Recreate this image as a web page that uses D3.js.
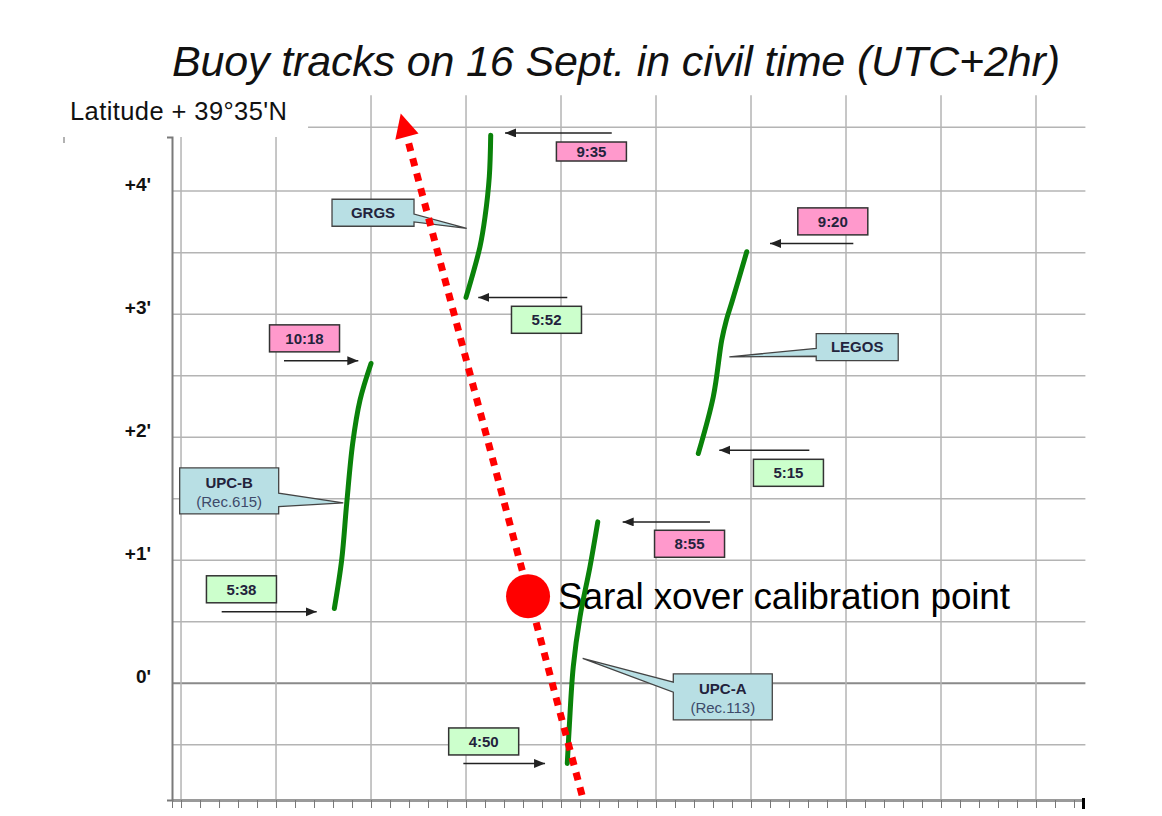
<!DOCTYPE html>
<html>
<head>
<meta charset="utf-8">
<script src="https://cdn.jsdelivr.net/npm/d3@7"></script>
<style>
  html, body { margin: 0; padding: 0; background: #fff; }
  #screen svg { display: block; }
</style>
</head>
<body>
<div id="screen"></div>
<script>
// x: grid columns (unlabelled), y: latitude minutes above 39°35'N
const buoyNames = ['UPC-B', 'GRGS', 'UPC-A', 'LEGOS']
const buoyRecs = ['(Rec.615)', '', '(Rec.113)', '']
const startTimes = ['5:38', '5:52', '4:50', '5:15']
const endTimes = ['10:18', '9:35', '8:55', '9:20']

const trackUPCB = [[1.614, 0.607], [1.691, 1.0], [1.744, 1.461], [1.807, 1.949], [1.884, 2.301], [2.0, 2.599]]
const trackGRGS = [[3.0, 3.136], [3.147, 3.548], [3.2, 3.79], [3.245, 4.116], [3.26, 4.455]]
const trackUPCA = [[4.066, -0.653], [4.087, -0.355], [4.129, 0.133], [4.2, 0.539], [4.305, 0.946], [4.387, 1.311]]
const trackLEGOS = [[5.445, 1.867], [5.603, 2.328], [5.692, 2.789], [5.74, 2.95], [5.8, 3.1], [5.955, 3.507]]
const tracks = [trackUPCB, trackGRGS, trackUPCA, trackLEGOS]

const yTickValues = [0, 1, 2, 3, 4]
const yTickLabels = ["0'", "+1'", "+2'", "+3'", "+4'"]

const saralTrack = [[4.221, -0.911], [2.313, 4.632]]
const xoverPoint = [3.653, 0.707]
const xoverLabel = 'Saral xover calibration point'

// annotation placement, in the same data units
const startBoxes = [[0.636, 0.763], [3.847, 2.954], [3.186, -0.474], [6.394, 1.71]]
const endBoxes = [[1.3, 2.803], [4.32, 4.322], [5.353, 1.133], [6.861, 3.754]]
const startArrows = [[0.428, 1.428, 0.58], [4.066, 3.129, 3.136], [2.972, 3.832, -0.653], [6.614, 5.666, 1.894]]
const endArrows = [[1.084, 1.866, 2.62], [4.534, 3.411, 4.473], [5.568, 4.649, 1.311], [7.077, 6.2, 3.575]]
const calloutCenters = [[0.507, 1.563], [2.021, 3.824], [5.703, -0.111], [7.118, 2.732]]
const calloutTips = [[1.708, 1.466], [3.007, 3.697], [4.228, 0.201], [5.772, 2.653]]

const font = "'Liberation Sans', Arial, sans-serif"

function drawChart () {
  const width = 1162
  const height = 816

  const container = d3.select('#screen')
  container.selectAll('*').remove()
  const svg = container.append('svg')
    .attr('width', width)
    .attr('height', height)
    .style('font-family', font)

  const x = d3.scaleLinear().domain([-0.095, 9.5]).range([172, 1083.5])
  const y = d3.scaleLinear().domain([-0.95, 4.44]).range([800, 137])

  // titre et label
  svg.append('text')
    .attr('x', 616)
    .attr('y', 76)
    .attr('text-anchor', 'middle')
    .attr('font-size', '43px')
    .attr('font-style', 'italic')
    .attr('fill', '#111')
    .attr('textLength', 888)
    .attr('lengthAdjust', 'spacing')
    .text('Buoy tracks on 16 Sept. in civil time (UTC+2hr)')

  svg.append('text')
    .attr('x', 70)
    .attr('y', 120)
    .attr('font-size', '25.5px')
    .attr('fill', '#111')
    .attr('textLength', 217)
    .attr('lengthAdjust', 'spacing')
    .text('Latitude + 39°35\'N')

  svg.append('line')
    .attr('x1', 64).attr('x2', 64)
    .attr('y1', 137).attr('y2', 143)
    .attr('stroke', '#999')
    .attr('stroke-width', 1.5)

  // grille
  const grid = svg.append('g')
  grid.selectAll('.hline')
    .data(d3.range(-0.5, 4.01, 0.5))
    .join('line')
    .attr('x1', x(-0.095))
    .attr('x2', x(9.52))
    .attr('y1', d => y(d))
    .attr('y2', d => y(d))
    .attr('stroke', d => d === 0 ? '#8a8a8a' : '#b4b4b4')
    .attr('stroke-width', d => d === 0 ? 2 : 1.5)

  grid.append('line')
    .attr('x1', x(1.337))
    .attr('x2', x(9.52))
    .attr('y1', y(4.52))
    .attr('y2', y(4.52))
    .attr('stroke', '#b4b4b4')
    .attr('stroke-width', 1.5)

  grid.selectAll('.vline')
    .data(d3.range(0, 10))
    .join('line')
    .attr('x1', d => x(d))
    .attr('x2', d => x(d))
    .attr('y1', d => d < 2 ? y(4.44) : y(4.78))
    .attr('y2', y(-0.95))
    .attr('stroke', '#b4b4b4')
    .attr('stroke-width', 1.5)

  // axes
  const xAxis = svg.append('g')
    .attr('transform', `translate(0,${y(-0.95)})`)
    .call(d3.axisBottom(x)
      .tickValues([-0.095].concat(d3.range(0, 9.41, 0.2)))
      .tickSize(8)
      .tickSizeOuter(0)
      .tickFormat(''))
  xAxis.select('.domain').attr('stroke', '#9a9a9a').attr('stroke-width', 3)
  xAxis.selectAll('.tick line').attr('stroke', '#777').attr('stroke-width', 1)

  svg.append('line')
    .attr('x1', x(9.5)).attr('x2', x(9.5))
    .attr('y1', y(-0.95) - 2).attr('y2', y(-0.95) + 9)
    .attr('stroke', '#000')
    .attr('stroke-width', 3)

  const yAxis = svg.append('g')
    .attr('transform', `translate(${x(-0.095)},0)`)
    .call(d3.axisLeft(y)
      .tickValues(yTickValues)
      .tickFormat((d, i) => yTickLabels[i])
      .tickSize(0)
      .tickSizeOuter(5)
      .tickPadding(21))
  yAxis.select('.domain').attr('stroke', '#7a7a7a').attr('stroke-width', 2)
  yAxis.selectAll('text')
    .attr('dy', '-0.05em')
    .attr('font-family', font)
    .attr('font-size', '19px')
    .attr('font-weight', 'bold')
    .attr('fill', '#111')

  const defs = svg.append('defs')
  defs.append('marker')
    .attr('id', 'arrow-head')
    .attr('markerUnits', 'userSpaceOnUse')
    .attr('markerWidth', 12)
    .attr('markerHeight', 10)
    .attr('refX', 11)
    .attr('refY', 4.5)
    .attr('orient', 'auto')
    .append('path')
    .attr('d', 'M0,0 L11,4.5 L0,9 Z')
    .attr('fill', '#222')

  // flèches de temps
  const arrows = startArrows.concat(endArrows)
  svg.selectAll('.time-arrow')
    .data(arrows)
    .join('line')
    .attr('x1', d => x(d[0]))
    .attr('x2', d => x(d[1]))
    .attr('y1', d => y(d[2]))
    .attr('y2', d => y(d[2]))
    .attr('stroke', '#222')
    .attr('stroke-width', 1.5)
    .attr('marker-end', 'url(#arrow-head)')

  // boites de temps
  const timeBoxes = startBoxes.map((c, i) => ({ c, label: startTimes[i], fill: '#ccffcc', h: 27 }))
    .concat(endBoxes.map((c, i) => ({ c, label: endTimes[i], fill: '#ff99cc', h: buoyNames[i] === 'GRGS' ? 19 : 27 })))
  const tb = svg.selectAll('.time-box')
    .data(timeBoxes)
    .join('g')
    .attr('transform', d => `translate(${x(d.c[0])},${y(d.c[1])})`)
  tb.append('rect')
    .attr('x', -35)
    .attr('y', d => -d.h / 2)
    .attr('width', 70)
    .attr('height', d => d.h)
    .attr('fill', d => d.fill)
    .attr('stroke', '#333')
    .attr('stroke-width', 1.5)
  tb.append('text')
    .attr('text-anchor', 'middle')
    .attr('dy', '0.36em')
    .attr('font-size', '15px')
    .attr('font-weight', 'bold')
    .attr('fill', '#23233c')
    .text(d => d.label)

  // callouts des bouées
  const callouts = buoyNames.map((name, i) => {
    const twoLines = buoyRecs[i] !== ''
    return {
      name,
      rec: buoyRecs[i],
      cx: x(calloutCenters[i][0]),
      cy: y(calloutCenters[i][1]),
      tx: x(calloutTips[i][0]),
      ty: y(calloutTips[i][1]),
      w: twoLines ? 99 : 82,
      h: twoLines ? 46 : 27,
      side: calloutTips[i][0] > calloutCenters[i][0] ? 'right' : 'left',
      base: name === 'UPC-A' ? [0.18, 0.4] : [0.55, 0.84]
    }
  })

  const co = svg.selectAll('.callout')
    .data(callouts)
    .join('g')
  co.append('path')
    .attr('d', d => {
      const x0 = d.cx - d.w / 2
      const x1 = d.cx + d.w / 2
      const y0 = d.cy - d.h / 2
      const y1 = d.cy + d.h / 2
      const b1 = y0 + d.base[0] * d.h
      const b2 = y0 + d.base[1] * d.h
      if (d.side === 'right') {
        return `M${x0},${y0}L${x1},${y0}L${x1},${b1}L${d.tx},${d.ty}L${x1},${b2}L${x1},${y1}L${x0},${y1}Z`
      }
      return `M${x0},${y0}L${x1},${y0}L${x1},${y1}L${x0},${y1}L${x0},${b2}L${d.tx},${d.ty}L${x0},${b1}Z`
    })
    .attr('fill', '#b8dfe4')
    .attr('stroke', '#444')
    .attr('stroke-width', 1.3)
  co.append('text')
    .attr('x', d => d.cx)
    .attr('y', d => d.rec ? d.cy - 8 : d.cy)
    .attr('text-anchor', 'middle')
    .attr('dy', '0.36em')
    .attr('font-size', '15px')
    .attr('font-weight', 'bold')
    .attr('fill', '#23233c')
    .text(d => d.name)
  co.filter(d => d.rec)
    .append('text')
    .attr('x', d => d.cx)
    .attr('y', d => d.cy + 11)
    .attr('text-anchor', 'middle')
    .attr('dy', '0.36em')
    .attr('font-size', '15px')
    .attr('fill', '#3d4a6a')
    .text(d => d.rec)

  // label du point de calibration
  svg.append('text')
    .attr('x', x(xoverPoint[0]) + 30)
    .attr('y', y(xoverPoint[1]) + 13)
    .attr('font-size', '37px')
    .attr('fill', '#000')
    .attr('textLength', 452)
    .attr('lengthAdjust', 'spacing')
    .text(xoverLabel)

  // traces des bouées
  const line = d3.line()
    .x(d => x(d[0]))
    .y(d => y(d[1]))
    .curve(d3.curveCatmullRom.alpha(0.5))

  svg.selectAll('.track')
    .data(tracks)
    .join('path')
    .attr('d', line)
    .attr('fill', 'none')
    .attr('stroke', '#0a820a')
    .attr('stroke-width', 5)
    .attr('stroke-linecap', 'round')
    .attr('stroke-linejoin', 'round')

  // trace Saral en pointillé avec flèche
  const p0 = [x(saralTrack[0][0]), y(saralTrack[0][1])]
  const p1 = [x(saralTrack[1][0]), y(saralTrack[1][1])]
  const len = Math.hypot(p1[0] - p0[0], p1[1] - p0[1])
  const ux = (p1[0] - p0[0]) / len
  const uy = (p1[1] - p0[1]) / len
  const headLen = 24
  const headW = 12
  const bx = p1[0] - ux * headLen
  const by = p1[1] - uy * headLen

  svg.append('line')
    .attr('x1', p0[0]).attr('y1', p0[1])
    .attr('x2', bx).attr('y2', by)
    .attr('stroke', '#ff0000')
    .attr('stroke-width', 7)
    .attr('stroke-dasharray', '8,7.5')

  svg.append('path')
    .attr('d', `M${p1[0]},${p1[1]}L${bx - uy * headW},${by + ux * headW}L${bx + uy * headW},${by - ux * headW}Z`)
    .attr('fill', '#ff0000')

  svg.append('circle')
    .attr('cx', x(xoverPoint[0]))
    .attr('cy', y(xoverPoint[1]))
    .attr('r', 22)
    .attr('fill', '#ff0000')
}

drawChart()
</script>
</body>
</html>
